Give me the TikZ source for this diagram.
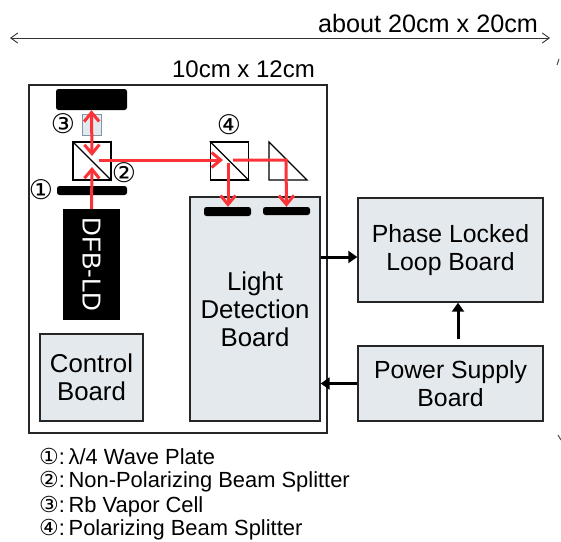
\documentclass[tikz,border=0pt]{standalone}
\usepackage{fontspec}
\setmainfont{Liberation Sans}
\newfontfamily\symfont{DejaVu Sans}
\usetikzlibrary{arrows.meta, positioning, calc}
\definecolor{bGray}{HTML}{E4E9ED}
\definecolor{bRed}{HTML}{FB3338}
\definecolor{cellEdge}{HTML}{7F97A8}
\tikzset{
  beamtip/.tip={Straight Barb[length=9pt,width=15pt,line width=3pt]},
  board/.style={draw=black!85, line width=1.4pt, fill=bGray, inner sep=0pt, align=center, font=\fontsize{24.8}{28}\selectfont},
  optic/.style={fill=black, rounded corners=2.5pt, inner sep=0pt},
  cube/.style={draw=black, line width=1.4pt, fill=white, minimum size=38pt, inner sep=0pt},
  beam/.style={draw=bRed, line width=3pt, -beamtip},
  link/.style={line width=3pt, -{Triangle[length=9pt,width=12pt]}},
  tag/.style={font=\symfont\fontsize{27}{27}\selectfont, inner sep=0pt},
  legend/.style={anchor=west, inner sep=0pt, font=\fontsize{21.9}{24}\selectfont},
  dim/.style={inner sep=0pt, font=\fontsize{24}{28}\selectfont},
}
\newcommand{\legdigit}[1]{{\symfont\fontsize{22}{22}\selectfont #1}}
\begin{document}
\begin{tikzpicture}[x=1pt, y=-1pt]
    \useasboundingbox (0,0) rectangle (561,541);
    % overall size
    \coordinate (sizeL) at (10,38);
    \coordinate (sizeR) at (550,38);
    \draw[black!80, line width=0.9pt, {Straight Barb[length=7pt,width=10pt]}-{Straight Barb[length=7pt,width=10pt]}] (sizeL) -- (sizeR);
    \node[dim, font=\fontsize{25.2}{28}\selectfont] (sizeAll) at (428,23) {about 20cm x 20cm};
    \node[dim] (sizeBox) at (243.5,69) {10cm x 12cm};
    \node[draw=black!85, line width=1.4pt, minimum width=298pt, minimum height=348pt, inner sep=0pt] (box) at (178,259) {};
    % cut-off strokes at the right edge
    \draw[black!70, line width=1pt] (559,59) -- (557,65);
    \draw[black!70, line width=1pt] (558,435) -- (561,440);
    % boards
    \node[board, font=\fontsize{25.8}{28}\selectfont, minimum width=130pt, minimum height=224pt] (detect) at (255,309) {Light\\Detection\\Board};
    \node[board, font=\fontsize{25.8}{28}\selectfont, minimum width=103pt, minimum height=87pt] (control) at (91.5,377.5) {Control\\Board};
    \node[board, minimum width=185pt, minimum height=104pt] (pll) at (450.5,250) {Phase Locked\\Loop Board};
    \node[board, minimum width=185pt, minimum height=75pt] (power) at (450.5,383.5) {Power Supply\\Board};
    % optics
    \node[fill=black, minimum width=57pt, minimum height=111pt, inner sep=0pt] (laser) at (91.5,264.5) {};
    \node[white, rotate=-90, font=\fontsize{26}{28}\selectfont, inner sep=0pt] (laserText) at (91.5,264.5) {DFB-LD};
    \node[optic, minimum width=71pt, minimum height=21pt] (mirror) at (91.5,99.5) {};
    \node[optic, minimum width=70pt, minimum height=9pt] (plate) at (92,190.5) {};
    \node[draw=cellEdge, line width=1pt, fill=bGray, minimum width=19pt, minimum height=21pt, inner sep=0pt] (cell) at (91.5,124.5) {};
    \node[cube] (npbs) at (92,161) {};
    \node[cube] (pbs) at (229.5,161) {};
    \draw[line width=1.4pt] (npbs.north west) -- (npbs.south east);
    \draw[line width=1.4pt] (pbs.north west) -- (pbs.south east);
    \coordinate (prismA) at (269,142);
    \coordinate (prismB) at (269,180);
    \coordinate (prismC) at (307,180);
    \draw[line width=1.4pt, fill=white, line join=miter] (prismA) -- (prismB) -- (prismC) -- cycle;
    \node[optic, minimum width=47pt, minimum height=9pt] (detA) at (227.5,211.5) {};
    \node[optic, minimum width=47pt, minimum height=8pt] (detB) at (286.5,211) {};
    % beams
    \coordinate (npbsIn) at (92,167);
    \coordinate (npbsUp) at (92,156);
    \coordinate (npbsOut) at (99,160);
    \coordinate (pbsIn) at (223,160);
    \coordinate (pbsOut) at (233,160);
    \coordinate (pbsDown) at (228,163);
    \coordinate (prismTurn) at (286,160);
    \draw[beam] (laser.north) -- (npbsIn);
    \draw[beam, beamtip-beamtip] (mirror.south) -- (npbsUp);
    \draw[beam] (npbsOut) -- (pbsIn);
    \draw[beam] (pbsDown) -- (pbsDown |- detA.north);
    \draw[beam] (pbsOut) -- (prismTurn) -- (detB.north);
    % links between boards
    \draw[link] (detect.east |- 0,257) -- (pll.west |- 0,257);
    \draw[link] (power.north -| 458,0) ++(0,-6) -- (pll.south -| 458,0);
    \draw[link] (power.west) -- (detect.east |- power.west);
    % numbered tags
    \node[tag] (tagC) at (63,124) {③};
    \node[tag] (tagD) at (229,125) {④};
    \node[tag] (tagB) at (124,173) {②};
    \node[tag] (tagA) at (41,190) {①};
    % legend
    \node[legend] (legA) at (39,456) {\legdigit{①}:\,λ/4 Wave Plate};
    \node[legend] (legB) at (39,482) {\legdigit{②}:\,Non-Polarizing Beam Splitter};
    \node[legend] (legC) at (39,507) {\legdigit{③}:\,Rb Vapor Cell};
    \node[legend] (legD) at (39,530) {\legdigit{④}:\,Polarizing Beam Splitter};
  \end{tikzpicture}
\end{document}
